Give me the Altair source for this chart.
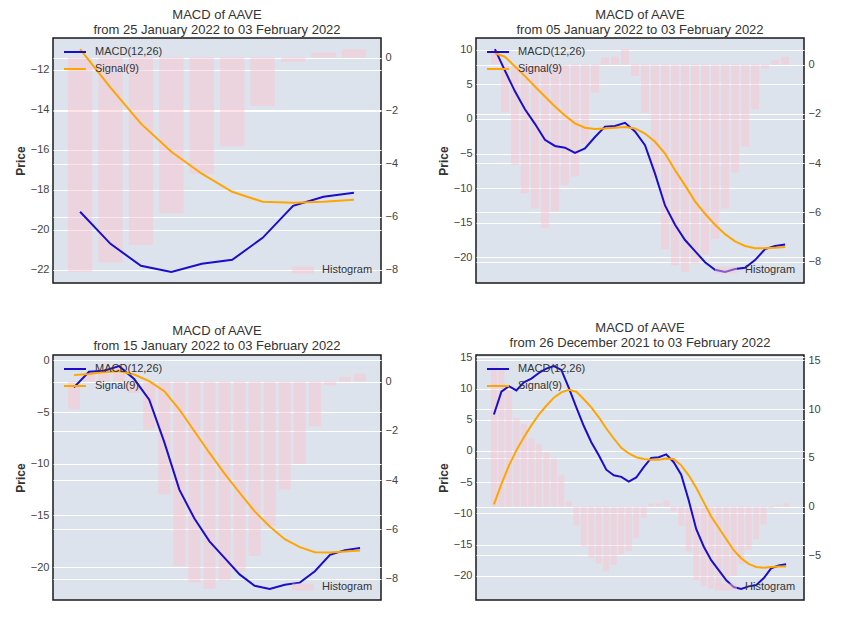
import altair as alt
import pandas as pd

# ---- data (26 Dec 2021 .. 03 Feb 2022, 40 daily values) ----
macd = [5.85, 9.5, 10.4, 9.7, 11.0, 11.6, 12.5, 13.2, 13.6, 13.0,
        10.1, 7.0, 4.0, 1.4, -0.7, -3.0, -3.9, -4.15, -4.9, -4.25,
        -2.6, -1.1, -1.0, -0.55, -1.8, -3.8, -7.9, -12.5, -15.3, -17.5,
        -19.1, -20.7, -21.8, -22.1, -21.7, -21.5, -20.4, -18.8, -18.35, -18.15]

hist = [14.4, 14.2, 11.9, 9.1, 8.5, 7.0, 6.4, 5.6, 4.95, 3.2,
        0.6, -1.93, -4.07, -5.24, -5.85, -6.63, -5.96, -4.9, -4.55, -3.23,
        -1.13, 0.29, 0.33, 0.63, -0.46, -1.96, -4.59, -7.5, -8.16, -8.42,
        -8.08, -7.72, -7.07, -5.87, -4.38, -3.34, -1.82, -0.16, 0.19, 0.32]

signal_10d = [-10.98, -12.9, -14.7, -16.1, -17.2, -18.1, -18.6, -18.65, -18.6, -18.5]

signal_30d = [9.5, 9.0, 7.6, 6.2, 4.7, 3.25, 1.8, 0.5, -0.63, -1.26,
              -1.46, -1.36, -1.26, -1.17, -1.36, -2.1, -3.3, -5.0, -7.4, -9.6,
              -11.9, -13.7, -15.3, -16.65, -17.7, -18.35, -18.7, -18.7, -18.6, -18.5]

signal_20d = [-1.42, -1.3, -1.13, -1.03, -1.36, -2.0, -2.97, -4.75, -6.85, -8.95,
              -10.95, -12.8, -14.6, -16.06, -17.3, -18.06, -18.55, -18.58, -18.48, -18.38]

signal_40d = [-8.55, -5.3, -2.35, 0.1, 2.2, 4.1, 5.85, 7.25, 8.55, 9.4,
              9.8, 9.5, 8.3, 7.0, 5.4, 3.6, 2.0, 0.5, -0.4, -1.0,
              -1.3, -1.4, -1.4, -1.2, -1.3, -2.3, -3.9, -5.9, -8.2, -10.5,
              -12.3, -14.1, -15.9, -17.2, -18.1, -18.6, -18.7, -18.6, -18.5, -18.5]

start_dates = ["25 January 2022", "05 January 2022", "15 January 2022", "26 December 2021"]
end_date = "03 February 2022"
left_ticks = [[-22, -20, -18, -16, -14, -12],
              [-20, -15, -10, -5, 0, 5, 10],
              [-20, -15, -10, -5, 0],
              [-20, -15, -10, -5, 0, 5, 10, 15]]
right_ticks = [[-8, -6, -4, -2, 0],
               [-8, -6, -4, -2, 0],
               [-8, -6, -4, -2, 0],
               [-5, 0, 5, 10, 15]]
series_names = ["MACD(12,26)", "Signal(9)"]
hist_name = "Histogram"

BG = "#dde3ed"
BLUE = "#1a0ec8"
ORANGE = "#ffa500"
PINK = "#ffc0cb"
FONT = "Liberation Sans"
W, H = 328, 245


def panel(signal, start, lt, rt):
    n = len(signal)
    m = macd[-n:]
    h = hist[-n:]
    idx = list(range(n))
    bar_df = pd.DataFrame({"idx": idx, "hist": h, "kind": [hist_name] * n})
    line_df = pd.DataFrame({"idx": idx + idx,
                            "value": m + signal,
                            "series": [series_names[0]] * n + [series_names[1]] * n})
    pad = 0.05 * (n - 0.2)
    xs = alt.Scale(domain=[-0.4 - pad, n - 0.6 + pad], nice=False, zero=False)
    vals = m + signal
    lo, hi = min(vals), max(vals)
    mg = 0.05 * (hi - lo)
    hlo, hhi = min(h + [0]), max(h + [0])
    hmg = 0.05 * (hhi - hlo)

    bars = alt.Chart(bar_df).transform_calculate(
        x0="datum.idx - 0.4", x1="datum.idx + 0.4", base="0"
    ).mark_bar(opacity=0.45).encode(
        x=alt.X("x0:Q", scale=xs, axis=None),
        x2="x1:Q",
        y=alt.Y("hist:Q",
                scale=alt.Scale(domain=[hlo - hmg, hhi + hmg], nice=False, zero=False),
                axis=alt.Axis(orient="right", values=rt, grid=True, title=None, format="d")),
        y2="base:Q",
        fill=alt.Fill("kind:N",
                      scale=alt.Scale(domain=[hist_name], range=[PINK]),
                      legend=alt.Legend(title=None, orient="bottom-right", offset=8, padding=0,
                                        symbolType="M-1,-0.32H1V0.32H-1Z", symbolSize=484,
                                        symbolStrokeWidth=0, labelOffset=8)),
    )

    lines = alt.Chart(line_df).mark_line(strokeWidth=2).encode(
        x=alt.X("idx:Q", scale=xs, axis=None),
        y=alt.Y("value:Q",
                scale=alt.Scale(domain=[lo - mg, hi + mg], nice=False, zero=False),
                axis=alt.Axis(orient="left", values=lt, grid=True, title="Price", format="d")),
        color=alt.Color("series:N",
                        scale=alt.Scale(domain=series_names, range=[BLUE, ORANGE]),
                        legend=alt.Legend(title=None, orient="top-left", offset=2, padding=0,
                                          symbolType="stroke", symbolSize=484,
                                          symbolStrokeWidth=2, symbolOffset=8,
                                          labelOffset=8, rowPadding=-9)),
    )

    return alt.layer(bars, lines).resolve_scale(y="independent").properties(
        width=W, height=H,
        title=alt.Title(["MACD of AAVE", f"from {start} to {end_date}"]),
    )


p1 = panel(signal_10d, start_dates[0], left_ticks[0], right_ticks[0])
p2 = panel(signal_30d, start_dates[1], left_ticks[1], right_ticks[1])
p3 = panel(signal_20d, start_dates[2], left_ticks[2], right_ticks[2])
p4 = panel(signal_40d, start_dates[3], left_ticks[3], right_ticks[3])

row1 = alt.hconcat(p1, p2, spacing=37).resolve_scale(color="independent", fill="independent")
row2 = alt.hconcat(p3, p4, spacing=37).resolve_scale(color="independent", fill="independent")

chart = alt.vconcat(row1, row2, spacing=37).resolve_scale(
    color="independent", fill="independent"
).properties(
    padding={"left": 5, "top": 0, "right": 5, "bottom": 5}
).configure_view(
    fill=BG, stroke="#1a1a1a", strokeWidth=1.5
).configure_axis(
    labelFont=FONT, labelFontSize=11, labelColor="#444444",
    titleFont=FONT, titleFontSize=12, titleFontWeight="bold", titleColor="#333333",
    titlePadding=3, labelPadding=4, ticks=False, domain=False,
    gridColor="#ffffff", gridOpacity=1, gridWidth=1,
).configure_title(
    font=FONT, fontSize=13, fontWeight="normal", color="#333333",
    lineHeight=15, offset=1, anchor="middle", frame="group",
).configure_legend(
    labelFont=FONT, labelFontSize=11, labelColor="#333333",
)

chart.save("out.html", embed_options={"renderer": "svg", "actions": False})
